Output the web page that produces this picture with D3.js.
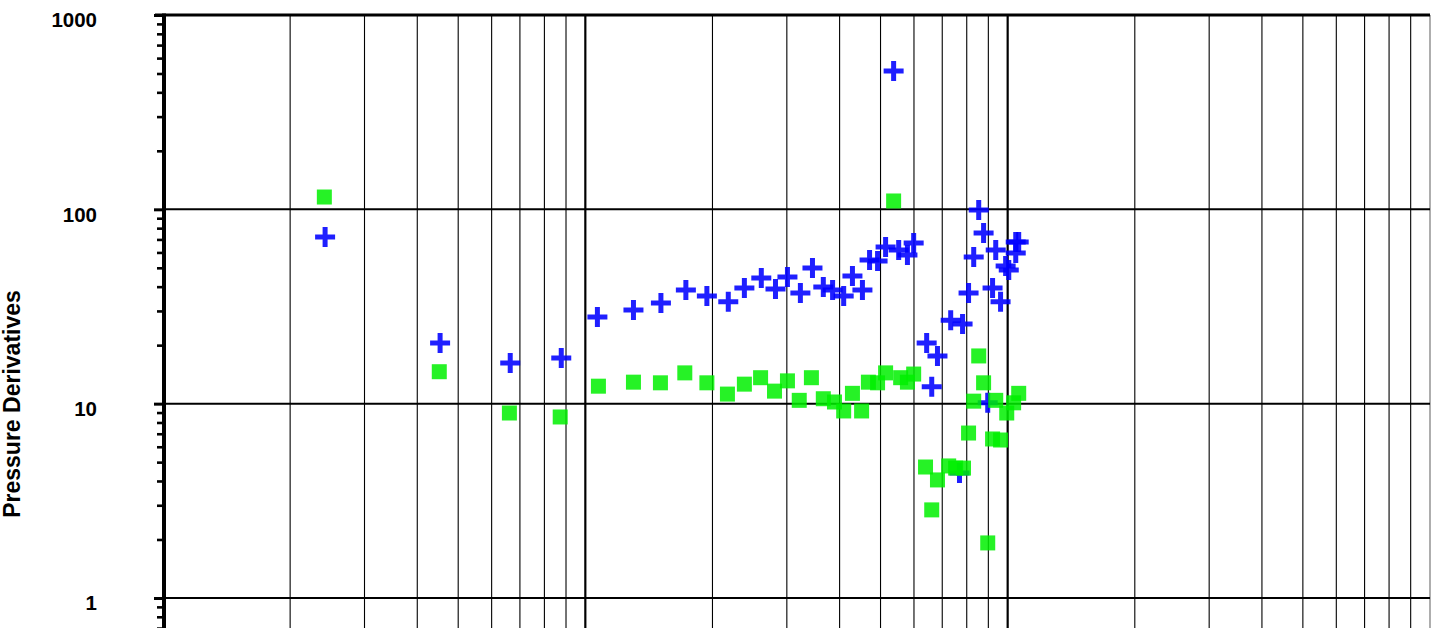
<!DOCTYPE html>
<html>
<head>
<meta charset="utf-8">
<script src="https://cdn.jsdelivr.net/npm/d3@7"></script>
<style>
  html, body { margin: 0; padding: 0; background: #fff; }
  svg { display: block; font-family: "Liberation Sans", Arial, sans-serif; }
</style>
</head>
<body>
<svg id="chart" width="1437" height="628"></svg>
<script>
// ---- data ----
const yTickLabels = [1, 10, 100, 1000];
const xDomain = [0.01, 10];
const yDomain = [0.1, 1000];
const yTitle = "Pressure Derivatives";

// Series 1: blue crosses
const crossX = [0.0242, 0.0453, 0.0664, 0.0877, 0.1068, 0.130, 0.151, 0.173, 0.194, 0.218,
  0.238, 0.261, 0.282, 0.301, 0.323, 0.345, 0.366, 0.385, 0.409, 0.429,
  0.453, 0.471, 0.492, 0.514, 0.537, 0.552, 0.579, 0.599, 0.643, 0.682,
  0.661, 0.733, 0.782, 0.769, 0.808, 0.831, 0.854, 0.877, 0.897, 0.921,
  0.937, 0.962, 0.989, 1.006, 1.045, 1.062, 1.045];
const crossY = [72.1, 20.5, 16.2, 17.2, 27.9, 30.3, 33.0, 38.5, 35.8, 33.4,
  39.4, 44.3, 38.9, 44.9, 37.1, 49.9, 39.8, 38.5, 35.8, 45.4,
  38.5, 54.9, 54.2, 64.0, 515, 61.8, 58.2, 67.1, 20.5, 17.6,
  12.2, 26.9, 25.7, 4.40, 37.1, 56.9, 99.2, 75.5, 10.1, 39.4,
  61.8, 33.4, 51.1, 48.7, 67.9, 67.9, 59.6];

// Series 2: green squares
const squareX = [0.0241, 0.0451, 0.0661, 0.0872, 0.1074, 0.130, 0.1506, 0.172, 0.194, 0.217,
  0.238, 0.260, 0.2805, 0.301, 0.321, 0.343, 0.366, 0.389, 0.409, 0.429,
  0.451, 0.468, 0.492, 0.514, 0.537, 0.558, 0.579, 0.599, 0.639, 0.682,
  0.661, 0.725, 0.753, 0.786, 0.808, 0.831, 0.854, 0.877, 0.897, 0.921,
  0.937, 0.962, 0.995, 1.033, 1.062];
const squareY = [115.7, 14.6, 8.95, 8.54, 12.3, 12.9, 12.8, 14.4, 12.8, 11.2,
  12.6, 13.6, 11.6, 13.1, 10.4, 13.6, 10.6, 10.2, 9.17, 11.3,
  9.17, 12.9, 12.8, 14.4, 110.4, 13.6, 12.9, 14.2, 4.72, 4.05,
  2.84, 4.78, 4.66, 4.66, 7.06, 10.3, 17.6, 12.8, 1.92, 6.58,
  10.4, 6.50, 8.95, 10.1, 11.3];

// ---- layout ----
const svg = d3.select("#chart");
const pLeft = 163, pRight = 1430, pTop = 15, pBottom = 792.3;

const x = d3.scaleLog().domain(xDomain).range([pLeft, pRight]);
const y = d3.scaleLog().domain(yDomain).range([pBottom, pTop]);

function decadeValues(domain) {
  const out = [];
  const lo = Math.round(Math.log10(domain[0])), hi = Math.round(Math.log10(domain[1]));
  for (let e = lo; e < hi; e++) {
    for (let m = 1; m <= 9; m++) out.push(+(m * Math.pow(10, e)).toPrecision(6));
  }
  out.push(+Math.pow(10, hi).toPrecision(6));
  return out;
}
const isDecade = v => Math.abs(Math.log10(v) - Math.round(Math.log10(v))) < 1e-9;

const g = svg.append("g");

// vertical grid lines
const xv = decadeValues(xDomain).filter(v => v > xDomain[0] && v < xDomain[1]);
g.append("g").selectAll("line").data(xv).join("line")
  .attr("x1", d => x(d)).attr("x2", d => x(d))
  .attr("y1", pTop).attr("y2", pBottom)
  .attr("stroke", "#000")
  .attr("stroke-width", d => isDecade(d) ? 2.2 : 1.1);

// right border
g.append("line").attr("x1", pRight).attr("x2", pRight).attr("y1", pTop).attr("y2", pBottom)
  .attr("stroke", "#777").attr("stroke-width", 1.2);

// horizontal grid lines (decades)
g.append("g").selectAll("line").data(yTickLabels.filter(v => v < yDomain[1])).join("line")
  .attr("x1", pLeft).attr("x2", pRight)
  .attr("y1", d => y(d)).attr("y2", d => y(d))
  .attr("stroke", "#000").attr("stroke-width", 2);

// top border
g.append("line").attr("x1", pLeft - 8).attr("x2", pRight).attr("y1", pTop).attr("y2", pTop)
  .attr("stroke", "#000").attr("stroke-width", 3);

// y axis: minor ticks
const yAll = decadeValues(yDomain);
const axMinor = d3.axisLeft(y).tickValues(yAll.filter(v => !isDecade(v))).tickSize(6).tickFormat("");
const gMinor = g.append("g").attr("transform", `translate(${pLeft},0)`).call(axMinor);
gMinor.select(".domain").remove();
gMinor.selectAll(".tick line").attr("stroke", "#000").attr("stroke-width", 2.6);

// y axis: major ticks + labels
const axMajor = d3.axisLeft(y).tickValues(yTickLabels).tickSize(9).tickPadding(57)
  .tickFormat(d3.format("d"));
const gMajor = g.append("g").attr("transform", `translate(${pLeft},0)`).call(axMajor);
gMajor.select(".domain").remove();
gMajor.selectAll(".tick line").attr("stroke", "#000").attr("stroke-width", 3);
gMajor.selectAll(".tick text")
  .attr("dy", "0.58em")
  .attr("fill", "#000")
  .style("font-family", "'Liberation Sans', Arial, sans-serif")
  .style("font-weight", "bold")
  .style("font-size", "20.5px");

// y axis line
g.append("line").attr("x1", pLeft + 1).attr("x2", pLeft + 1).attr("y1", pTop - 1.5).attr("y2", pBottom)
  .attr("stroke", "#000").attr("stroke-width", 4);

// y axis title
svg.append("text")
  .attr("transform", "translate(20, 404) rotate(-90)")
  .attr("text-anchor", "middle")
  .style("font-weight", "bold")
  .style("font-size", "23px")
  .attr("fill", "#000")
  .text(yTitle);

// ---- marks ----
const crosses = crossX.map((v, i) => ({ x: v, y: crossY[i] }));
const squares = squareX.map((v, i) => ({ x: v, y: squareY[i] }));

g.append("g").selectAll("path").data(crosses).join("path")
  .attr("transform", d => `translate(${x(d.x)},${y(d.y)})`)
  .attr("d", "M-10,0H10M0,-10V10")
  .attr("stroke", "#0000ff")
  .attr("stroke-opacity", 0.88)
  .attr("stroke-width", 5)
  .attr("fill", "none");

const s = 15;
g.append("g").selectAll("rect").data(squares).join("rect")
  .attr("x", d => x(d.x) - s / 2)
  .attr("y", d => y(d.y) - s / 2)
  .attr("width", s).attr("height", s)
  .attr("fill", "#00f000")
  .attr("fill-opacity", 0.85);
</script>
</body>
</html>
